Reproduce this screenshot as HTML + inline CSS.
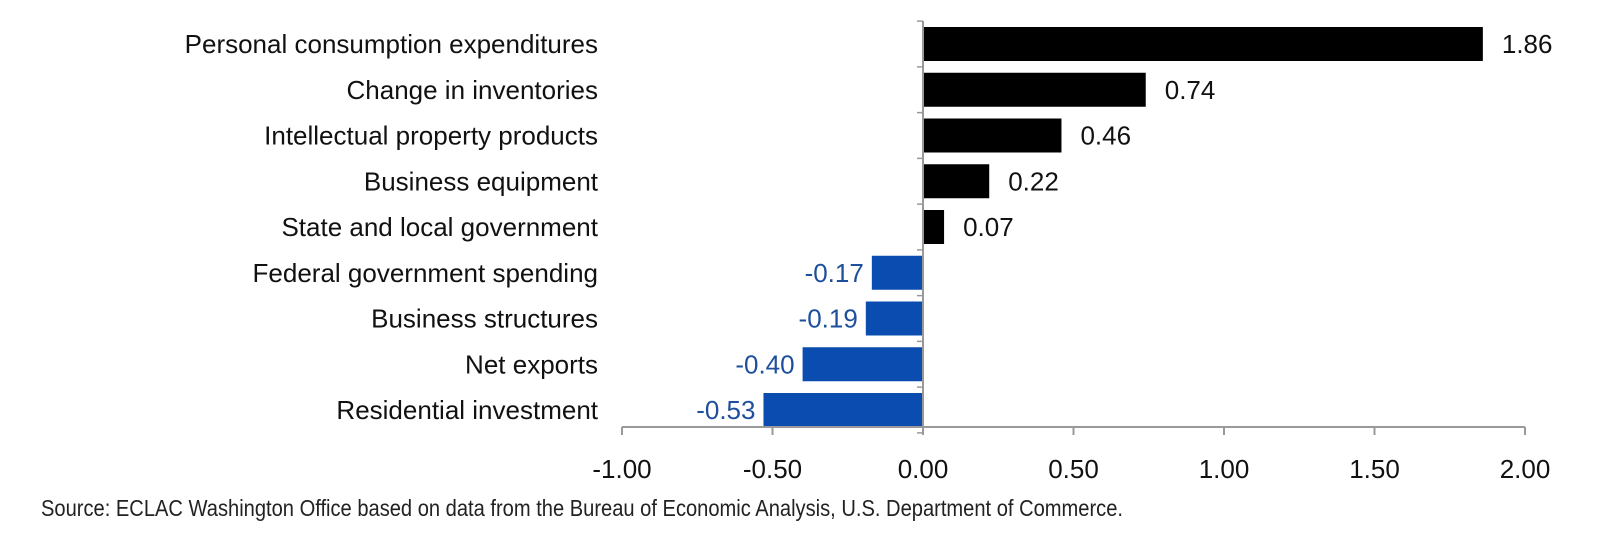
<!DOCTYPE html>
<html><head><meta charset="utf-8"><style>
body{margin:0;background:#fff;}
svg{display:block;font-family:"Liberation Sans",Arial,sans-serif;}
</style></head><body>
<svg id="chart" width="1600" height="552" viewBox="0 0 1600 552" xmlns="http://www.w3.org/2000/svg"></svg>
<script>
const categories = ["Personal consumption expenditures","Change in inventories","Intellectual property products","Business equipment","State and local government","Federal government spending","Business structures","Net exports","Residential investment"];
const values = [1.86, 0.74, 0.46, 0.22, 0.07, -0.17, -0.19, -0.40, -0.53];
const valueLabels = ["1.86","0.74","0.46","0.22","0.07","-0.17","-0.19","-0.40","-0.53"];
const ticks = [-1, -0.5, 0, 0.5, 1, 1.5, 2];
const tickLabels = ["-1.00","-0.50","0.00","0.50","1.00","1.50","2.00"];

const svg = document.getElementById('chart');
const NS = "http://www.w3.org/2000/svg";
const x0 = 622, x1 = 1525, vmin = -1, vmax = 2;
function xs(v){ return x0 + (v - vmin) / (vmax - vmin) * (x1 - x0); }
const yTop = 21, step = 45.75, firstCenter = 44, barH = 34, axisY = 427;
function yc(i){ return firstCenter + i * step; }
function mk(tag, attrs){ const e = document.createElementNS(NS, tag); for (const k in attrs) e.setAttribute(k, attrs[k]); svg.appendChild(e); return e; }

values.forEach((v, i) => {
  const xa = xs(0), xb = xs(v);
  const r = mk('rect', {x: Math.min(xa, xb), y: yc(i) - barH/2, width: Math.abs(xb - xa), height: barH, fill: v >= 0 ? '#000' : '#0a4cb0'});
  
  
  const lab = mk('text', {y: yc(i) + 9, 'font-size': 26, fill: v >= 0 ? '#111' : '#1d4f9c'});
  if (v >= 0) { lab.setAttribute('x', xb + 19); } else { lab.setAttribute('x', xb - 8); lab.setAttribute('text-anchor', 'end'); }
  lab.textContent = valueLabels[i];
  
  
  const cl = mk('text', {x: 598, y: yc(i) + 9, 'font-size': 26, fill: '#111', 'text-anchor': 'end'});
  cl.textContent = categories[i];
  
  
});

const va = mk('line', {x1: xs(0), x2: xs(0), y1: yTop, y2: axisY, stroke: '#999', 'stroke-width': 2});


for (let i = 0; i <= categories.length; i++) {
  const y = yc(i) - step/2;
  const t = mk('line', {x1: xs(0) - 6, x2: xs(0), y1: y, y2: y, stroke: '#999', 'stroke-width': 1.5});
  
  
}
const ha = mk('line', {x1: x0, x2: x1, y1: axisY, y2: axisY, stroke: '#999', 'stroke-width': 2});


ticks.forEach((t, i) => {
  const x = xs(t);
  const tk = mk('line', {x1: x, x2: x, y1: axisY, y2: axisY + 8, stroke: '#999', 'stroke-width': 2});
  
  
  const tl = mk('text', {x: x, y: axisY + 51, 'font-size': 26, fill: '#111', 'text-anchor': 'middle'});
  tl.textContent = tickLabels[i];
  
  
});
const src = mk('text', {x: 41, y: 516, 'font-size': 23, fill: '#222', textLength: 1082, lengthAdjust: 'spacingAndGlyphs'});
src.textContent = "Source: ECLAC Washington Office based on data from the Bureau of Economic Analysis, U.S. Department of Commerce.";


</script>
</body></html>
